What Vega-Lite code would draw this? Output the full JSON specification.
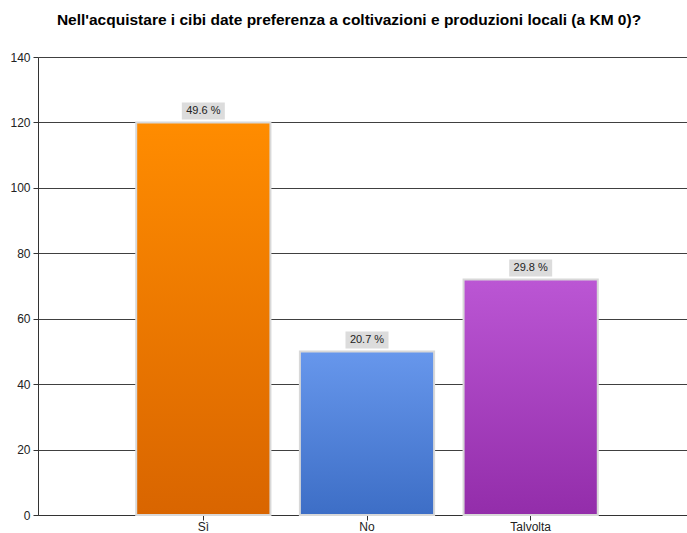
{
  "$schema": "https://vega.github.io/schema/vega-lite/v6.json",
  "autosize": "none",
  "padding": {"left": 38, "top": 57, "right": 0, "bottom": 18},
  "width": 658,
  "height": 458,
  "background": "white",
  "title": {
    "text": "Nell'acquistare i cibi date preferenza a coltivazioni e produzioni locali (a KM 0)?",
    "font": "Liberation Sans",
    "fontSize": 15.5,
    "fontWeight": "bold",
    "color": "#000000",
    "anchor": "middle",
    "dx": -18,
    "offset": 23
  },
  "config": {
    "view": {"stroke": null},
    "axis": {"labelFont": "Liberation Sans", "labelColor": "#222222"}
  },
  "data": {
    "values": [
      {"cat": "Sì", "value": 120, "label": "49.6 %"},
      {"cat": "No", "value": 50, "label": "20.7 %"},
      {"cat": "Talvolta", "value": 72, "label": "29.8 %"}
    ]
  },
  "encoding": {
    "x": {
      "field": "cat",
      "type": "nominal",
      "sort": null,
      "scale": {"paddingInner": 0.18, "paddingOuter": 0.6},
      "axis": {
        "title": null,
        "labelAngle": 0,
        "labelFontSize": 12,
        "labelPadding": 1,
        "tickSize": 5,
        "tickColor": "#333333",
        "domainColor": "#333333",
        "labelColor": "#222222"
      }
    },
    "y": {
      "field": "value",
      "type": "quantitative",
      "scale": {"domain": [0, 140], "nice": false},
      "axis": {
        "title": null,
        "values": [0, 20, 40, 60, 80, 100, 120, 140],
        "labelFontSize": 12,
        "labelPadding": 3,
        "tickSize": 5,
        "tickColor": "#333333",
        "domainColor": "#333333",
        "gridColor": "#404040",
        "gridOpacity": 1,
        "grid": true
      }
    }
  },
  "layer": [
    {
      "mark": {"type": "bar", "stroke": "#d8d8d8", "strokeWidth": 2},
      "encoding": {
        "fill": {
          "condition": [
            {
              "test": "datum.cat === 'Sì'",
              "value": {"gradient": "linear", "x1": 0, "y1": 0, "x2": 0, "y2": 1,
                "stops": [{"offset": 0, "color": "#FF8C00"}, {"offset": 1, "color": "#D96500"}]}
            },
            {
              "test": "datum.cat === 'No'",
              "value": {"gradient": "linear", "x1": 0, "y1": 0, "x2": 0, "y2": 1,
                "stops": [{"offset": 0, "color": "#6797EC"}, {"offset": 1, "color": "#3D6EC6"}]}
            }
          ],
          "value": {"gradient": "linear", "x1": 0, "y1": 0, "x2": 0, "y2": 1,
            "stops": [{"offset": 0, "color": "#BB56D4"}, {"offset": 1, "color": "#932DAA"}]}
        }
      }
    },
    {
      "mark": {"type": "point", "shape": "M-1,-0.395H1V0.395H-1Z", "size": 1849, "filled": true, "fill": "#dcdcdc", "opacity": 1, "strokeWidth": 0, "yOffset": -11.5}
    },
    {
      "mark": {"type": "text", "font": "Liberation Sans", "fontSize": 11, "color": "#222222", "baseline": "middle", "yOffset": -11},
      "encoding": {"text": {"field": "label"}}
    }
  ]
}
